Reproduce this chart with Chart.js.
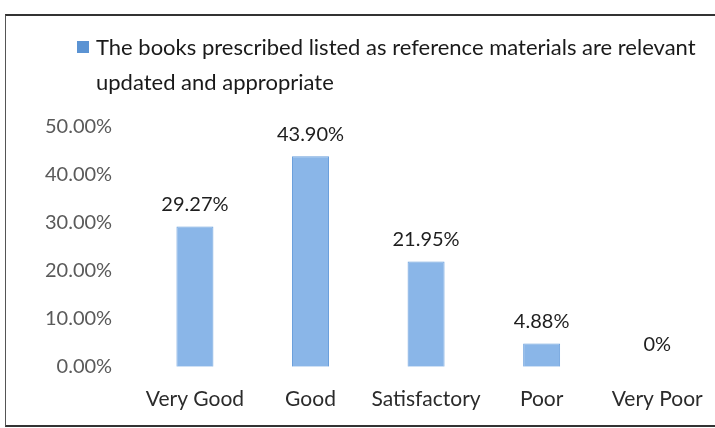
<!DOCTYPE html>
<html>
<head>
<meta charset="utf-8">
<script src="https://cdn.jsdelivr.net/npm/chart.js@4.4.1/dist/chart.umd.min.js"></script>
<style>
  html, body { margin: 0; padding: 0; background: #fff; }
  #wrap { position: relative; width: 715px; height: 428px; overflow: hidden; }
  #frame { position: absolute; left: 5px; top: 14px; width: 760px; height: 409px;
           border-top: 2px solid #333; border-left: 1px solid #555; border-bottom: 2px solid #333; }
  canvas { position: absolute; left: 0; top: 0; }
  #legend { position: absolute; left: 77px; top: 29px; font-family: Lato; font-size: 22px;
            color: #1a1a1a; line-height: 35px; white-space: nowrap; }
  #legend .box { position: absolute; left: 0; top: 12px; width: 12px; height: 12px; background: #5b93d3; }
  #legend .txt { margin-left: 19px; }
</style>
</head>
<body>
<div id="wrap">
  <div id="frame"></div>
  <canvas id="myChart" width="715" height="428"></canvas>
  <div id="legend"><span class="box"></span><div class="txt"></div></div>
</div>
<script>
// categories and values
const categories = ['Very Good', 'Good', 'Satisfactory', 'Poor', 'Very Poor']
const percentValues = [29.27, 43.90, 21.95, 4.88, 0]
const valueLabels = ['29.27%', '43.90%', '21.95%', '4.88%', '0%']
const seriesName = ['The books prescribed listed as reference materials are relevant', 'updated and appropriate']
const yTicks = [0, 10, 20, 30, 40, 50]

const barFill = '#8ab6e8'
const barEdge = '#6a9fdc'

// legend written as html (two lines like the picture)
document.querySelector('#legend .txt').innerHTML = seriesName.join('<br>')

// labels above each bar
const valueLabelPlugin = {
    id: 'valueLabels',
    afterDatasetsDraw(chart) {
        const ctx = chart.ctx
        const meta = chart.getDatasetMeta(0)
        ctx.save()
        ctx.font = '20px Lato'
        ctx.fillStyle = '#1e1e1e'
        ctx.textAlign = 'center'
        ctx.textBaseline = 'middle'
        meta.data.forEach((bar, i) => {
            ctx.fillText(valueLabels[i], bar.x, bar.y - 22)
        })
        ctx.restore()
    }
}

const ctx = document.getElementById('myChart')
new Chart(ctx, {
    type: 'bar',
    data: {
        labels: categories,
        datasets: [{
            label: seriesName.join(' '),
            data: percentValues,
            backgroundColor: barFill,
            borderColor: barEdge,
            borderWidth: 1,
            barPercentage: 0.64,
            categoryPercentage: 0.5
        }]
    },
    options: {
        responsive: false,
        animation: false,
        layout: { padding: { top: 127, left: 20, right: 0, bottom: -4 } },
        plugins: {
            tooltip: { enabled: false },
            legend: { display: false }
        },
        scales: {
            x: {
                grid: { display: false, drawTicks: false },
                border: { display: false },
                // let the last category run to the right edge like the picture
                afterFit: scale => { scale.paddingRight = 0 },
                ticks: {
                    color: '#2b2b2b',
                    padding: 20,
                    maxRotation: 0,
                    autoSkip: false,
                    font: { family: 'Lato', size: 21 }
                }
            },
            y: {
                min: 0,
                max: 50,
                afterBuildTicks: axis => { axis.ticks = yTicks.map(v => ({ value: v })) },
                grid: { display: false, drawTicks: false },
                border: { display: false },
                ticks: {
                    color: '#5a5a5a',
                    padding: 25,
                    font: { family: 'Lato', size: 20 },
                    callback: v => v.toFixed(2) + '%'
                }
            }
        }
    },
    plugins: [valueLabelPlugin]
})
</script>
</body>
</html>
